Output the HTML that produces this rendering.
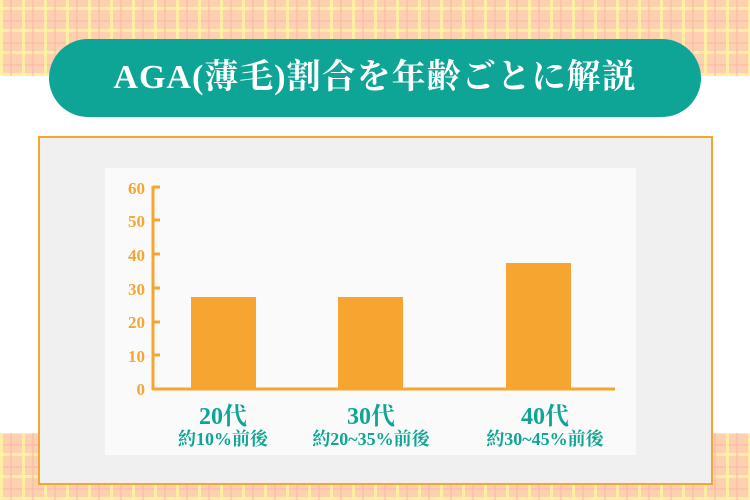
<!DOCTYPE html>
<html><head><meta charset="utf-8"><style>
body{margin:0;width:750px;height:500px;position:relative;overflow:hidden;background:#fff;font-family:"Liberation Serif","Noto Serif CJK SC",serif}
.plaid{position:absolute;left:0;width:750px;background-color:#fdd0b0;
background-image:repeating-linear-gradient(90deg,rgba(255,245,160,.8) 0 3px,transparent 3px 10px,rgba(250,180,170,.5) 10px 12px,transparent 12px 22px),
repeating-linear-gradient(0deg,rgba(255,245,160,.8) 0 3px,transparent 3px 10px,rgba(250,180,170,.5) 10px 12px,transparent 12px 22px);}
.pill{position:absolute;left:49px;top:39px;width:652px;height:78px;border-radius:39px;background:#0ea597;color:#fff;text-align:center;line-height:78px;font-size:34px;font-weight:bold;letter-spacing:1px;white-space:nowrap}
.box{position:absolute;left:38px;top:136px;width:671px;height:345px;border:2px solid #f5a530;background:#f0f0f0}
.panel{position:absolute;left:105px;top:168px;width:531px;height:287px;background:#fafafa}
.lab{position:absolute;color:#0ea597;font-weight:bold;text-align:center;width:200px;white-space:nowrap}
</style></head><body>
<div class="plaid" style="top:0;height:76px"></div>
<div class="plaid" style="top:433px;height:67px"></div>
<div class="pill">AGA(薄毛)割合を年齢ごとに解説</div>
<div class="box"></div>
<div class="panel"></div>
<svg style="position:absolute;left:0;top:0" width="750" height="500">
<g fill="#f5a530" font-family="Liberation Serif" font-weight="bold" font-size="17" text-anchor="end">
<text x="145" y="194">60</text><text x="145" y="227">50</text><text x="145" y="261">40</text><text x="145" y="295">30</text><text x="145" y="328">20</text><text x="145" y="362">10</text><text x="145" y="395">0</text>
</g>
<g stroke="#f5a530" stroke-width="3">
<line x1="153" y1="186" x2="153" y2="390"/><line x1="152" y1="389" x2="615" y2="389"/>
<line x1="153" y1="187" x2="160" y2="187"/><line x1="153" y1="220" x2="160" y2="220"/><line x1="153" y1="254" x2="160" y2="254"/><line x1="153" y1="288" x2="160" y2="288"/><line x1="153" y1="322" x2="160" y2="322"/><line x1="153" y1="355" x2="160" y2="355"/>
</g>
<g fill="#f5a530"><rect x="191" y="297" width="65" height="92"/><rect x="338" y="297" width="65" height="92"/><rect x="506" y="263" width="65" height="126"/></g>
</svg>
<div class="lab" style="left:123px;top:396px;font-size:24px">20代</div>
<div class="lab" style="left:123px;top:425px;font-size:18px">約10%前後</div>
<div class="lab" style="left:271px;top:396px;font-size:24px">30代</div>
<div class="lab" style="left:271px;top:425px;font-size:18px">約20~35%前後</div>
<div class="lab" style="left:445px;top:396px;font-size:24px">40代</div>
<div class="lab" style="left:445px;top:425px;font-size:18px">約30~45%前後</div>
</body></html>
